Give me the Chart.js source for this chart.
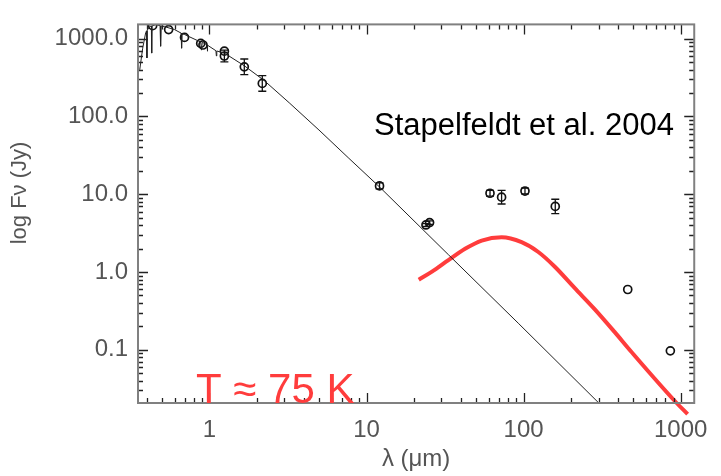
<!DOCTYPE html>
<html>
<head>
<meta charset="utf-8">
<script src="https://cdn.jsdelivr.net/npm/chart.js@4.4.0/dist/chart.umd.min.js"></script>
<style>
  html, body { margin: 0; padding: 0; background: #fff; }
  canvas { display: block; }
</style>
</head>
<body>
<canvas id="sed" width="721" height="476"></canvas>
<script>
// photometry (microns, Jy)
var lambdaObs   = [0.435, 0.55, 0.694, 0.88, 0.91, 1.245, 1.245, 1.667, 2.17, 12.1, 23.9, 25.2, 61.1, 72.4, 102, 159, 460, 859];
var fluxObs     = [1470, 1309, 1038, 870, 830, 692, 599, 435, 266, 12.8, 4.03, 4.32, 10.3, 9.17, 11.0, 6.98, 0.596, 0.097];
var fluxObsLow  = [1470, 1309, 1038, 870, 830, 692, 503, 345, 211, 11.7, 3.85, 4.1, 9.45, 7.49, 10.1, 5.65, 0.596, 0.097];
var fluxObsHigh = [1470, 1309, 1038, 870, 830, 692, 713, 548, 335, 14.0, 4.2, 4.55, 11.2, 11.2, 12.0, 8.62, 0.596, 0.097];

// stellar photosphere model (with a few absorption lines)
var lambdaModel = [0.36, 0.376, 0.393, 0.398, 0.40, 0.402, 0.417, 0.427, 0.429, 0.431, 0.455, 0.485, 0.489, 0.493, 0.518, 0.60,
                   0.66, 0.665, 0.67, 0.694, 0.88, 0.89, 0.90, 0.93, 0.965, 0.97, 0.975, 1.10, 1.107, 1.114, 1.245, 1.667,
                   2.23, 3.22, 4.98, 7.72, 12.1, 33.2, 92.4, 301];
var fluxModel   = [398, 755, 1200, 1260, 565, 1290, 1430, 1460, 653, 1460, 1514, 1470, 800, 1460, 1430, 1309,
                   1180, 755, 1170, 1133, 905, 713, 895, 873, 830, 690, 825, 700, 600, 695, 653, 449,
                   290, 150, 67, 29, 12.4, 1.67, 0.220, 0.0207];

// T ~ 75 K dust blackbody
var lambdaDust = [21.5, 26.1, 33.2, 42.4, 54.1, 72.4, 97.1, 124, 158, 211, 283, 379, 483, 942, 1106];
var fluxDust   = [0.796, 1.01, 1.42, 1.99, 2.54, 2.80, 2.42, 1.81, 1.17, 0.625, 0.334, 0.170, 0.0952, 0.0207, 0.0149];

var xTicks = [1, 10, 100, 1000];
var xTickLabels = ['1', '10', '100', '1000'];
var yTicks = [0.1, 1, 10, 100, 1000];
var yTickLabels = ['0.1', '1.0', '10.0', '100.0', '1000.0'];

function pairs(xs, ys) {
  return xs.map(function (v, i) { return { x: v, y: ys[i] }; });
}

var FONT = 'Liberation Sans, Arial, sans-serif';
var GREY = '#555';

// inward ticks on all four sides plus the frame
var frameTicks = {
  id: 'frameTicks',
  afterDatasetsDraw: function (chart) {
    var ctx = chart.ctx, a = chart.chartArea, x = chart.scales.x, y = chart.scales.y;
    ctx.save();
    ctx.strokeStyle = '#222';
    ctx.lineWidth = 1.3;
    ctx.beginPath();
    for (var d = -2; d <= 3; d++) {
      for (var m = 1; m <= 9; m++) {
        var v = m * Math.pow(10, d);
        var len = m === 1 ? 10 : 5;
        if (v >= x.min && v <= x.max) {
          var px = Math.round(x.getPixelForValue(v)) + 0.5;
          ctx.moveTo(px, a.bottom); ctx.lineTo(px, a.bottom - len);
          ctx.moveTo(px, a.top); ctx.lineTo(px, a.top + len);
        }
        if (v >= y.min && v <= y.max) {
          var py = Math.round(y.getPixelForValue(v)) + 0.5;
          ctx.moveTo(a.left, py); ctx.lineTo(a.left + len, py);
          ctx.moveTo(a.right, py); ctx.lineTo(a.right - len, py);
        }
      }
    }
    ctx.stroke();
    ctx.strokeStyle = '#808080';
    ctx.lineWidth = 2;
    ctx.strokeRect(a.left, a.top, a.right - a.left, a.bottom - a.top);
    ctx.restore();
  }
};

// error bars for the photometry
var errorBars = {
  id: 'errorBars',
  afterDatasetsDraw: function (chart) {
    var ctx = chart.ctx, x = chart.scales.x, y = chart.scales.y;
    ctx.save();
    ctx.strokeStyle = '#111';
    ctx.lineWidth = 1.3;
    ctx.beginPath();
    for (var i = 0; i < lambdaObs.length; i++) {
      if (fluxObsLow[i] === fluxObsHigh[i]) continue;
      var px = x.getPixelForValue(lambdaObs[i]);
      var lo = y.getPixelForValue(fluxObsLow[i]);
      var hi = y.getPixelForValue(fluxObsHigh[i]);
      ctx.moveTo(px, lo); ctx.lineTo(px, hi);
      ctx.moveTo(px - 4, lo); ctx.lineTo(px + 4, lo);
      ctx.moveTo(px - 4, hi); ctx.lineTo(px + 4, hi);
    }
    ctx.stroke();
    ctx.restore();
  }
};

// texts: y title, citation, temperature
var labels = {
  id: 'labels',
  afterDraw: function (chart) {
    var ctx = chart.ctx, a = chart.chartArea;
    ctx.save();
    ctx.fillStyle = GREY;
    ctx.font = '22px ' + FONT;
    ctx.textAlign = 'center';
    ctx.textBaseline = 'middle';
    ctx.translate(20, 193);
    ctx.rotate(-Math.PI / 2);
    ctx.fillText('log F\u03BD (Jy)', 0, 0);
    ctx.restore();

    ctx.save();
    ctx.textAlign = 'left';
    ctx.textBaseline = 'alphabetic';
    ctx.fillStyle = '#000';
    ctx.font = '31px ' + FONT;
    ctx.fillText('Stapelfeldt et al. 2004', a.left + 236, a.top + 111);
    ctx.fillStyle = '#ff3c3c';
    ctx.font = '42px ' + FONT;
    ctx.fillText('T \u2248 75 K', a.left + 58, a.bottom);
    ctx.restore();
  }
};

var ctx = document.getElementById('sed');
var sedChart = new Chart(ctx, {
  type: 'scatter',
  data: {
    datasets: [
      {
        label: 'model',
        data: pairs(lambdaModel, fluxModel),
        showLine: true,
        borderColor: '#222',
        borderWidth: 1,
        pointRadius: 0,
        tension: 0
      },
      {
        label: 'photometry',
        data: pairs(lambdaObs, fluxObs),
        showLine: false,
        pointStyle: 'circle',
        pointRadius: 4,
        borderColor: '#111',
        borderWidth: 1.7,
        backgroundColor: 'rgba(255,255,255,0)'
      },
      {
        label: 'dust',
        data: pairs(lambdaDust, fluxDust),
        showLine: true,
        borderColor: '#ff3c3c',
        borderWidth: 4,
        pointRadius: 0,
        cubicInterpolationMode: 'monotone',
        clip: false
      }
    ]
  },
  options: {
    responsive: false,
    devicePixelRatio: 1,
    animation: false,
    layout: { padding: { top: 16, right: 24, left: 0, bottom: 0 } },
    plugins: { legend: { display: false }, tooltip: { enabled: false } },
    scales: {
      x: {
        type: 'logarithmic',
        min: 0.351,
        max: 1219,
        afterBuildTicks: function (s) { s.ticks = xTicks.map(function (v) { return { value: v }; }); },
        afterFit: function (s) { s.height = 73; },
        grid: { display: false, drawTicks: false },
        border: { display: false },
        ticks: {
          autoSkip: false,
          maxRotation: 0,
          padding: 13,
          color: GREY,
          font: { family: FONT, size: 24 },
          callback: function (v, i) { return xTickLabels[i]; }
        },
        title: {
          display: true,
          text: '\u03BB (\u03BCm)',
          color: GREY,
          font: { family: FONT, size: 24 },
          padding: { top: 0, bottom: 2 }
        }
      },
      y: {
        type: 'logarithmic',
        min: 0.0207,
        max: 1527,
        afterBuildTicks: function (s) { s.ticks = yTicks.map(function (v) { return { value: v }; }); },
        afterFit: function (s) { s.width = 138; },
        grid: { display: false, drawTicks: false },
        border: { display: false },
        ticks: {
          autoSkip: false,
          padding: 10,
          color: GREY,
          font: { family: FONT, size: 24 },
          callback: function (v, i) { return yTickLabels[i]; }
        }
      }
    }
  },
  plugins: [frameTicks, errorBars, labels]
});
</script>
</body>
</html>
